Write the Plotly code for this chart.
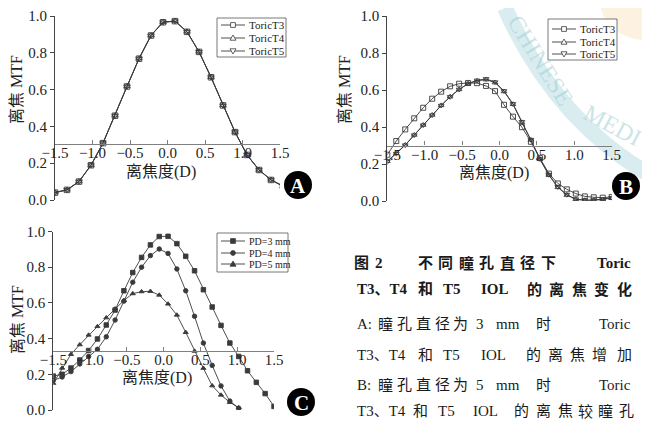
import plotly.graph_objects as go

W, H = 650, 421          # page size
OFF = 8                  # default page margin of the html body
FW, FH = W - OFF, H - OFF

# ---------------- data ----------------
# Panel A (pupil 3 mm)
a_x = [-1.5, -1.34, -1.18, -1.02, -0.86, -0.70, -0.54, -0.38, -0.22, -0.06,
       0.10, 0.26, 0.42, 0.58, 0.74, 0.90, 1.06, 1.22, 1.38, 1.54]
a_t3 = [0.040, 0.055, 0.100, 0.189, 0.309, 0.458, 0.617, 0.768, 0.894, 0.966,
        0.972, 0.914, 0.805, 0.667, 0.514, 0.369, 0.245, 0.163, 0.109, 0.075]
a_t4 = [0.041, 0.056, 0.101, 0.190, 0.310, 0.459, 0.618, 0.769, 0.895, 0.967,
        0.973, 0.915, 0.806, 0.668, 0.515, 0.370, 0.246, 0.164, 0.110, 0.076]
a_t5 = [0.040, 0.055, 0.100, 0.189, 0.309, 0.458, 0.617, 0.768, 0.894, 0.966,
        0.972, 0.914, 0.805, 0.667, 0.514, 0.369, 0.245, 0.163, 0.109, 0.075]

# Panel B (pupil 5 mm)
b_x = [-1.50, -1.38, -1.26, -1.14, -1.02, -0.90, -0.78, -0.66, -0.54, -0.42,
       -0.30, -0.18, -0.06, 0.06, 0.18, 0.30, 0.42, 0.54, 0.66, 0.78,
       0.90, 1.02, 1.14, 1.26, 1.38, 1.50]
b_t3 = [0.250, 0.324, 0.387, 0.447, 0.504, 0.553, 0.591, 0.620, 0.634, 0.638,
        0.637, 0.622, 0.594, 0.520, 0.456, 0.399, 0.320, 0.232, 0.148, 0.095,
        0.063, 0.040, 0.025, 0.020, 0.018, 0.022]
b_t4 = [0.215, 0.258, 0.303, 0.357, 0.411, 0.465, 0.517, 0.564, 0.603, 0.634,
        0.650, 0.656, 0.640, 0.592, 0.523, 0.425, 0.330, 0.226, 0.140, 0.074,
        0.032, 0.009, 0.004, 0.004, 0.008, 0.015]
b_t5 = [0.212, 0.256, 0.302, 0.356, 0.410, 0.464, 0.516, 0.563, 0.603, 0.635,
        0.652, 0.660, 0.643, 0.595, 0.525, 0.428, 0.332, 0.228, 0.142, 0.076,
        0.034, 0.010, 0.005, 0.005, 0.010, 0.018]

# Panel C (Toric IOL, different pupil diameters)
c_x3 = b_x
c_pd3 = [0.190, 0.200, 0.235, 0.280, 0.333, 0.398, 0.476, 0.560, 0.668, 0.770,
         0.855, 0.925, 0.972, 0.973, 0.932, 0.861, 0.780, 0.674, 0.577, 0.474,
         0.375, 0.300, 0.220, 0.155, 0.092, 0.020]
c_x45 = b_x[:22]
c_pd4 = [0.165, 0.185, 0.215, 0.258, 0.300, 0.340, 0.410, 0.504, 0.610, 0.716,
         0.800, 0.865, 0.902, 0.877, 0.790, 0.668, 0.525, 0.375, 0.250, 0.135,
         0.050, 0.010]
c_pd5 = [0.150, 0.235, 0.312, 0.366, 0.420, 0.468, 0.517, 0.567, 0.614, 0.652,
         0.663, 0.665, 0.644, 0.594, 0.532, 0.435, 0.330, 0.234, 0.136, 0.084,
         0.043, 0.013]

names_ab = ["ToricT3", "ToricT4", "ToricT5"]
names_c = ["PD=3 mm", "PD=4 mm", "PD=5 mm"]
x_ticks = [-1.5, -1.0, -0.5, 0.0, 0.5, 1.0, 1.5]
y_ticks = [0.0, 0.2, 0.4, 0.6, 0.8, 1.0]
y_title = "离焦 MTF"
x_title = "离焦度(D)"

# ---------------- helpers (page pixels -> paper fractions) ----------------
def fx(x):
    return (x - OFF) / FW

def fy(y):
    return 1 - (y - OFF) / FH

SERIF = "Liberation Serif, Noto Sans CJK SC, serif"
LINE = "#3a3a3a"

fig = go.Figure()

# panel geometry in page pixels: (x_left, x_right, y_bottom(0.0), y_top(1.0), axis cross level)
panels = {
    "1": (55, 280, 200, 16, 0.303),
    "2": (387.3, 611.7, 201, 16, 0.300),
    "3": (53.3, 274, 410, 231.5, 0.332),
}

layout_axes = {}
for k, (xl, xr, yb, yt, cross) in panels.items():
    xs = "xaxis" if k == "1" else "xaxis" + k
    ys = "yaxis" if k == "1" else "yaxis" + k
    yd = [fy(yb), fy(yt)]
    layout_axes[xs] = dict(
        domain=[fx(xl), fx(xr)], range=[-1.5, 1.5], tickvals=x_ticks,
        tickformat=".1f", showline=True, linecolor="#808080", linewidth=1.3,
        ticks="inside", ticklen=4, tickcolor="#808080", tickwidth=1,
        showgrid=False, zeroline=False, anchor="free", automargin=False,
        position=yd[0] + cross * (yd[1] - yd[0]), ticklabelstandoff=-5,
        tickfont=dict(family=SERIF, size=15, color="#222"),
    )
    layout_axes[ys] = dict(
        domain=yd, range=[0, 1], tickvals=y_ticks, tickformat=".1f",
        showline=True, linecolor="#444", linewidth=1, ticks="outside",
        ticklen=4, tickcolor="#444", showgrid=False, zeroline=False,
        automargin=False,
        anchor="x" if k == "1" else "x" + k,
        tickfont=dict(family=SERIF, size=15, color="#222"),
    )

def add_series(x, y, name, sym, xa, ya, size=5):
    fig.add_trace(go.Scatter(
        x=x, y=y, name=name, mode="lines+markers", xaxis=xa, yaxis=ya,
        showlegend=False,
        line=dict(color=LINE, width=0.9),
        marker=dict(symbol=sym, size=size, color=LINE,
                    line=dict(color=LINE, width=0.9)),
    ))

syms_ab = ["square-open", "triangle-up-open", "triangle-down-open"]
for ys_, n, s in zip([a_t3, a_t4, a_t5], names_ab, syms_ab):
    add_series(a_x, ys_, n, s, "x", "y", size=5.5)
for ys_, n, s in zip([b_t3, b_t4, b_t5], names_ab, syms_ab):
    add_series(b_x, ys_, n, s, "x2", "y2")
syms_c = ["square", "circle", "triangle-up"]
for xs_, ys_, n, s in zip([c_x3, c_x45, c_x45], [c_pd3, c_pd4, c_pd5], names_c, syms_c):
    add_series(xs_, ys_, n, s, "x3", "y3", size=4.5)

shapes = []
annotations = []

def ann(text, x, y, size=15, color="#222", bold=False, xanchor="center",
        angle=0, family=SERIF):
    if bold:
        text = "<b>" + text + "</b>"
    annotations.append(dict(
        text=text, x=fx(x), y=fy(y), xref="paper", yref="paper",
        showarrow=False, xanchor=xanchor, yanchor="middle", textangle=angle,
        font=dict(family=family, size=size, color=color),
    ))

# faint journal watermark (background decoration)
shapes.append(dict(type="path", xref="paper", yref="paper", layer="below",
                   path="M {} {} Q {} {} {} {}".format(fx(505), fy(8), fx(555), fy(120), fx(650), fy(175)),
                   line=dict(color="rgba(170,215,222,0.45)", width=16)))
ann("CHINESE", 540, 60, size=24, color="rgba(160,205,212,0.55)", angle=58)
ann("MEDI", 612, 125, size=24, color="rgba(160,205,212,0.55)", angle=28)
shapes.append(dict(type="circle", xref="paper", yref="paper", layer="below",
                   x0=fx(600), x1=fx(690), y0=fy(40), y1=fy(-40),
                   line=dict(width=0), fillcolor="rgba(250,215,170,0.35)"))

# axis titles
for (tx, ty) in [(17, 90), (345, 90), (17, 320)]:
    ann(y_title, tx, ty, size=16, angle=-90)
for (tx, ty) in [(161, 172), (494, 173), (157, 378)]:
    ann(x_title, tx, ty, size=16)

# manual legends
def legend(box, rows, names, syms, filled, fsize):
    x0, y0, x1, y1 = box
    shapes.append(dict(type="rect", xref="paper", yref="paper",
                       x0=fx(x0), x1=fx(x1), y0=fy(y0), y1=fy(y1),
                       line=dict(color="#555", width=0.8),
                       fillcolor="white"))
    lx0, lx1 = x0 + 4, x0 + 28
    cx = (lx0 + lx1) / 2
    for ry, nm, sy in zip(rows, names, syms):
        shapes.append(dict(type="line", xref="paper", yref="paper",
                           x0=fx(lx0), x1=fx(lx1), y0=fy(ry), y1=fy(ry),
                           line=dict(color=LINE, width=0.9)))
        fc = LINE if filled else "white"
        r = 2.4
        if sy == "sq":
            shapes.append(dict(type="rect", xref="paper", yref="paper",
                               x0=fx(cx - r), x1=fx(cx + r), y0=fy(ry + r), y1=fy(ry - r),
                               line=dict(color=LINE, width=0.8), fillcolor=fc))
        elif sy == "ci":
            shapes.append(dict(type="circle", xref="paper", yref="paper",
                               x0=fx(cx - r), x1=fx(cx + r), y0=fy(ry + r), y1=fy(ry - r),
                               line=dict(color=LINE, width=0.8), fillcolor=fc))
        else:
            s = 1 if sy == "tu" else -1
            p = "M {} {} L {} {} L {} {} Z".format(
                fx(cx), fy(ry - s * 3), fx(cx - 3), fy(ry + s * 2.2), fx(cx + 3), fy(ry + s * 2.2))
            shapes.append(dict(type="path", xref="paper", yref="paper", path=p,
                               line=dict(color=LINE, width=0.8), fillcolor=fc))
        ann(nm, lx1 + 2, ry, size=fsize, xanchor="left")

legend((217, 18, 286, 57), [25, 38, 51], names_ab, ["sq", "tu", "td"], False, 11)
legend((548, 19, 617, 60), [29, 42, 54], names_ab, ["sq", "tu", "td"], False, 11)
legend((217, 233, 288, 272), [241, 253, 264], names_c, ["sq", "ci", "tu"], True, 10)

# panel badges
for lab, (bx, by) in zip(["A", "B", "C"], [(298, 185), (626, 186), (301, 402)]):
    r = 14
    shapes.append(dict(type="circle", xref="paper", yref="paper",
                       x0=fx(bx - r), x1=fx(bx + r), y0=fy(by + r), y1=fy(by - r),
                       line=dict(color="black", width=0), fillcolor="black"))
    ann(lab, bx, by + 1, size=21, color="white", bold=True)

# caption (justified by hand)
CAP = 15
def cap_line(y, tokens, bold=False):
    for t, x, anc in tokens:
        ann(t, x, y, size=CAP, bold=bold, xanchor=anc, color="#1a1a1a")

cap_line(263, [("图", 362, "center"), ("2", 379, "center"), ("不", 425, "center"),
               ("同", 445, "center"), ("瞳", 466, "center"), ("孔", 486, "center"),
               ("直", 507, "center"), ("径", 527, "center"), ("下", 548, "center"),
               ("Toric", 633, "right")], bold=True)
cap_line(289, [("T3、T4", 355, "left"), ("和", 425, "center"), ("T5", 452, "center"),
               ("IOL", 495, "center"), ("的", 534, "center"), ("离", 556, "center"),
               ("焦", 579, "center"), ("变", 601, "center"), ("化", 624, "center")], bold=True)
for yy, lead, num in [(324, "A:", "3"), (385, "B:", "5")]:
    cap_line(yy, [(lead, 355, "left"), ("瞳", 386, "center"), ("孔", 404, "center"),
                  ("直", 423, "center"), ("径", 442, "center"), ("为", 460, "center"),
                  (num, 480, "center"), ("mm", 508, "center"), ("时", 543, "center"),
                  ("Toric", 633, "right")])
cap_line(355, [("T3、T4", 355, "left"), ("和", 425, "center"), ("T5", 451, "center"),
               ("IOL", 493, "center"), ("的", 533, "center"), ("离", 555, "center"),
               ("焦", 577, "center"), ("增", 599, "center"), ("加", 624, "center")])
cap_line(411, [("T3、T4", 355, "left"), ("和", 420, "center"), ("T5", 446, "center"),
               ("IOL", 485, "center"), ("的", 521, "center"), ("离", 543, "center"),
               ("焦", 565, "center"), ("较", 585, "center"), ("瞳", 605, "center"),
               ("孔", 626, "center")])

fig.update_layout(
    template="none",
    width=FW, height=FH, margin=dict(l=0, r=0, t=0, b=0, autoexpand=False),
    paper_bgcolor="white", plot_bgcolor="rgba(0,0,0,0)",
    showlegend=False, shapes=shapes, annotations=annotations,
    **layout_axes,
)

fig.write_html("out.html")
